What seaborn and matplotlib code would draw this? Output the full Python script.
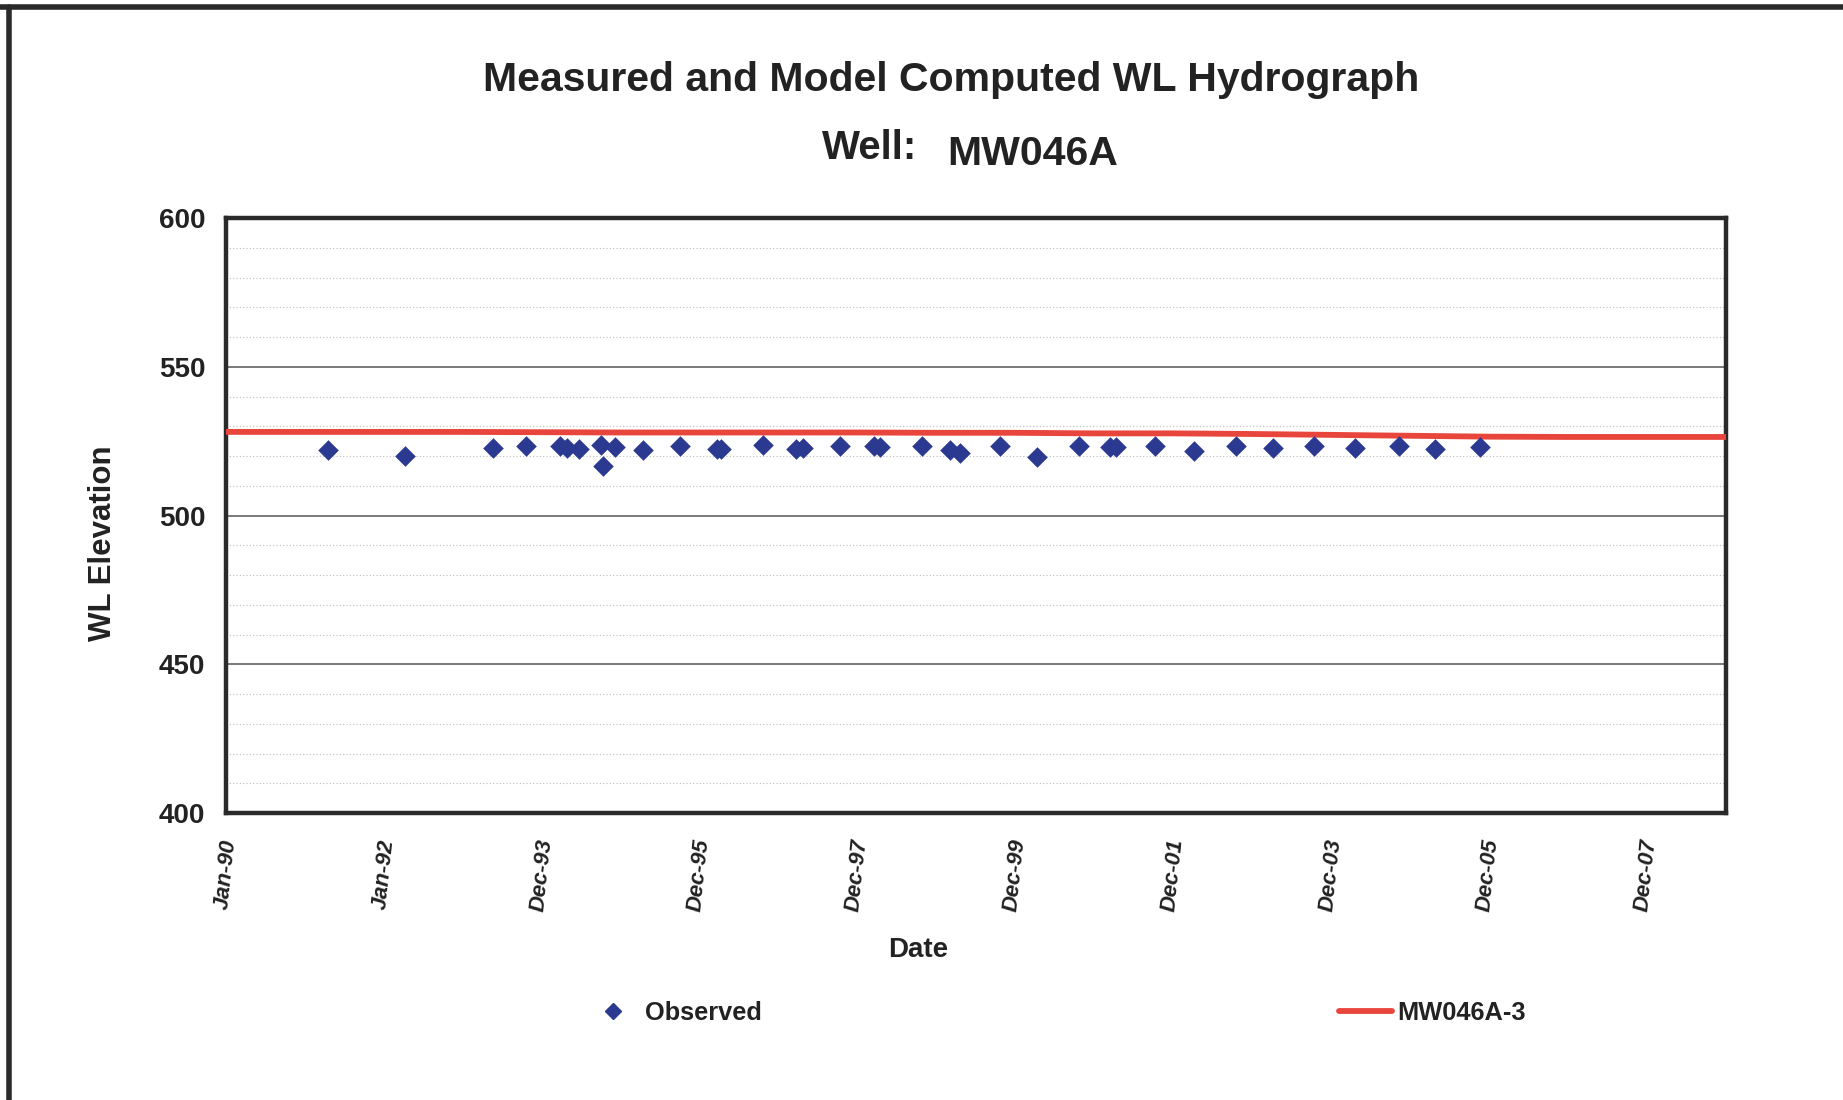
import matplotlib
matplotlib.use("Agg")
import matplotlib.pyplot as plt
import matplotlib.dates as mdates
import matplotlib.transforms as mtransforms
from matplotlib.lines import Line2D
from matplotlib.ticker import MultipleLocator, FixedLocator
import numpy as np
import pandas as pd
import seaborn as sns

# Observed water levels at well MW046A
obs_dates = [
    "1991-04-17", "1992-04-10", "1993-05-20", "1993-10-18", "1994-03-24",
    "1994-04-29", "1994-06-20", "1994-09-30", "1994-10-11", "1994-12-06",
    "1995-04-14", "1995-10-02", "1996-03-24", "1996-04-11", "1996-10-20",
    "1997-03-24", "1997-04-22", "1997-10-12", "1998-03-19", "1998-04-17",
    "1998-10-24", "1999-03-04", "1999-04-21", "1999-10-22", "2000-04-10",
    "2000-10-21", "2001-03-16", "2001-04-10", "2001-10-08", "2002-04-06",
    "2002-10-18", "2003-04-07", "2003-10-14", "2004-04-20", "2004-11-11",
    "2005-04-25", "2005-11-18",
]
obs_values = [
    522.0, 520.0, 522.8, 523.2, 523.4,
    522.6, 522.5, 523.8, 516.5, 523.0,
    522.0, 523.4, 522.5, 522.4, 523.6,
    522.4, 522.6, 523.3, 523.2, 522.9,
    523.4, 522.0, 521.0, 523.2, 519.8,
    523.4, 523.0, 523.0, 523.5, 521.7,
    523.4, 522.8, 523.4, 522.7, 523.3,
    522.2, 522.9,
]

# Model computed heads (layer 3)
model_dates = [
    "1990-01-01", "1991-01-01", "1992-01-01", "1993-01-01", "1994-01-01",
    "1995-01-01", "1996-01-01", "1997-01-01", "1998-01-01", "1999-01-01",
    "2000-01-01", "2001-01-01", "2002-01-01", "2003-01-01", "2004-01-01",
    "2005-01-01", "2006-01-01", "2007-01-01", "2008-01-01", "2009-01-01",
]
model_values = [
    528.1, 528.1, 528.1, 528.1, 528.0,
    527.9, 527.9, 527.9, 527.9, 527.8,
    527.8, 527.6, 527.6, 527.4, 527.1,
    526.8, 526.5, 526.4, 526.4, 526.4,
]

x_start, x_end = "1990-01-01", "2009-01-01"
y_min, y_max = 400, 600

obs = pd.DataFrame({"Date": pd.to_datetime(obs_dates), "WL": obs_values})
model = pd.DataFrame({"Date": pd.to_datetime(model_dates), "WL": model_values})

sns.set_theme(style="white")
plt.rcParams["font.family"] = ["Liberation Sans", "DejaVu Sans"]

TXT = "#222222"
fig = plt.figure(figsize=(18.43, 11.0), dpi=100)
ax = fig.add_axes([226 / 1843, 1 - 813 / 1100, 1500 / 1843, 595 / 1100])

sns.lineplot(data=model, x="Date", y="WL", ax=ax, color="#e8463c",
             linewidth=4.2, label="MW046A-3", zorder=3, legend=False)
sns.scatterplot(data=obs, x="Date", y="WL", ax=ax, marker="D", s=110,
                color="#2b3990", edgecolor="#2b3990", linewidth=0,
                label="Observed", zorder=4, legend=False)

# axis limits and ticks
ax.set_xlim(pd.Timestamp(x_start), pd.Timestamp(x_end))
ax.set_ylim(y_min, y_max)

major_dates = pd.date_range(start=x_start, periods=10, freq="730D")
minor_dates = pd.date_range(start=x_start, periods=20, freq="365D")
ax.xaxis.set_major_locator(FixedLocator(mdates.date2num(major_dates)))
ax.xaxis.set_minor_locator(FixedLocator(mdates.date2num(minor_dates)))
ax.set_xticklabels([d.strftime("%b-%y") for d in major_dates],
                   rotation=84, rotation_mode="default", fontsize=16,
                   fontweight="bold", fontstyle="italic", color=TXT,
                   ha="center", va="top")
shift = mtransforms.ScaledTranslation(-0.09, 0, fig.dpi_scale_trans)
for lab in ax.get_xticklabels():
    lab.set_transform(lab.get_transform() + shift)

ax.yaxis.set_major_locator(MultipleLocator(50))
ax.yaxis.set_minor_locator(MultipleLocator(10))
for lab in ax.get_yticklabels():
    lab.set_fontsize(20)
    lab.set_fontweight("bold")
    lab.set_color(TXT)

ax.tick_params(axis="x", which="major", direction="inout", length=12,
               width=1.3, color="#333333", pad=12)
ax.tick_params(axis="x", which="minor", direction="inout", length=8,
               width=1.0, color="#333333")
ax.tick_params(axis="y", which="major", direction="out", length=7,
               width=1.3, color="#333333", pad=8)
ax.tick_params(axis="y", which="minor", direction="in", length=5,
               width=1.0, color="#333333")

# gridlines
ax.grid(False)
ax.yaxis.grid(True, which="major", color="#555555", linewidth=1.1, zorder=1)
ax.yaxis.grid(True, which="minor", color="#bdbdbd", linewidth=0.8,
              linestyle=(0, (1, 2)), zorder=1)
ax.set_axisbelow(True)

for sp in ax.spines.values():
    sp.set_visible(True)
    sp.set_color("#2a2a2a")
    sp.set_linewidth(3.2)

ax.set_xlabel("")
ax.set_ylabel("")

# titles and axis labels
fig.text(951 / 1843, 1 - 80 / 1100, "Measured and Model Computed WL Hydrograph",
         ha="center", va="center", fontsize=29.5, fontweight="bold", color=TXT)
fig.text(917 / 1843, 1 - 148 / 1100, "Well:", ha="right", va="center",
         fontsize=29, fontweight="bold", color=TXT)
fig.text(947 / 1843, 1 - 154 / 1100, "MW046A", ha="left", va="center",
         fontsize=29.5, fontweight="bold", color=TXT)
fig.text(103 / 1843, 1 - 543 / 1100, "WL Elevation", ha="center", va="center",
         rotation=90, fontsize=22.5, fontweight="bold", color=TXT)
fig.text(918 / 1843, 1 - 950 / 1100, "Date", ha="center", va="center",
         fontsize=20, fontweight="bold", color=TXT)

# legend
handles = [
    Line2D([], [], linestyle="none", marker="D", markersize=8.5,
           color="#2b3990"),
    Line2D([], [], color="#e8463c", linewidth=4.2),
]
fig.legend(handles, ["Observed", "MW046A-3"], loc="center left",
           bbox_to_anchor=(574 / 1843, 1 - 1013 / 1100), ncol=2,
           frameon=False, borderpad=0, handlelength=2.1, handletextpad=0.2,
           columnspacing=22.7, prop={"size": 18.3, "weight": "bold"},
           labelcolor=TXT)

# outer chart border
fig.add_artist(Line2D([0.0, 1.0], [1 - 7 / 1100, 1 - 7 / 1100],
                      transform=fig.transFigure, color="#2a2a2a", linewidth=4))
fig.add_artist(Line2D([9 / 1843, 9 / 1843], [0.0, 1 - 7 / 1100],
                      transform=fig.transFigure, color="#2a2a2a", linewidth=4))

fig.savefig("out.png", dpi=100)
